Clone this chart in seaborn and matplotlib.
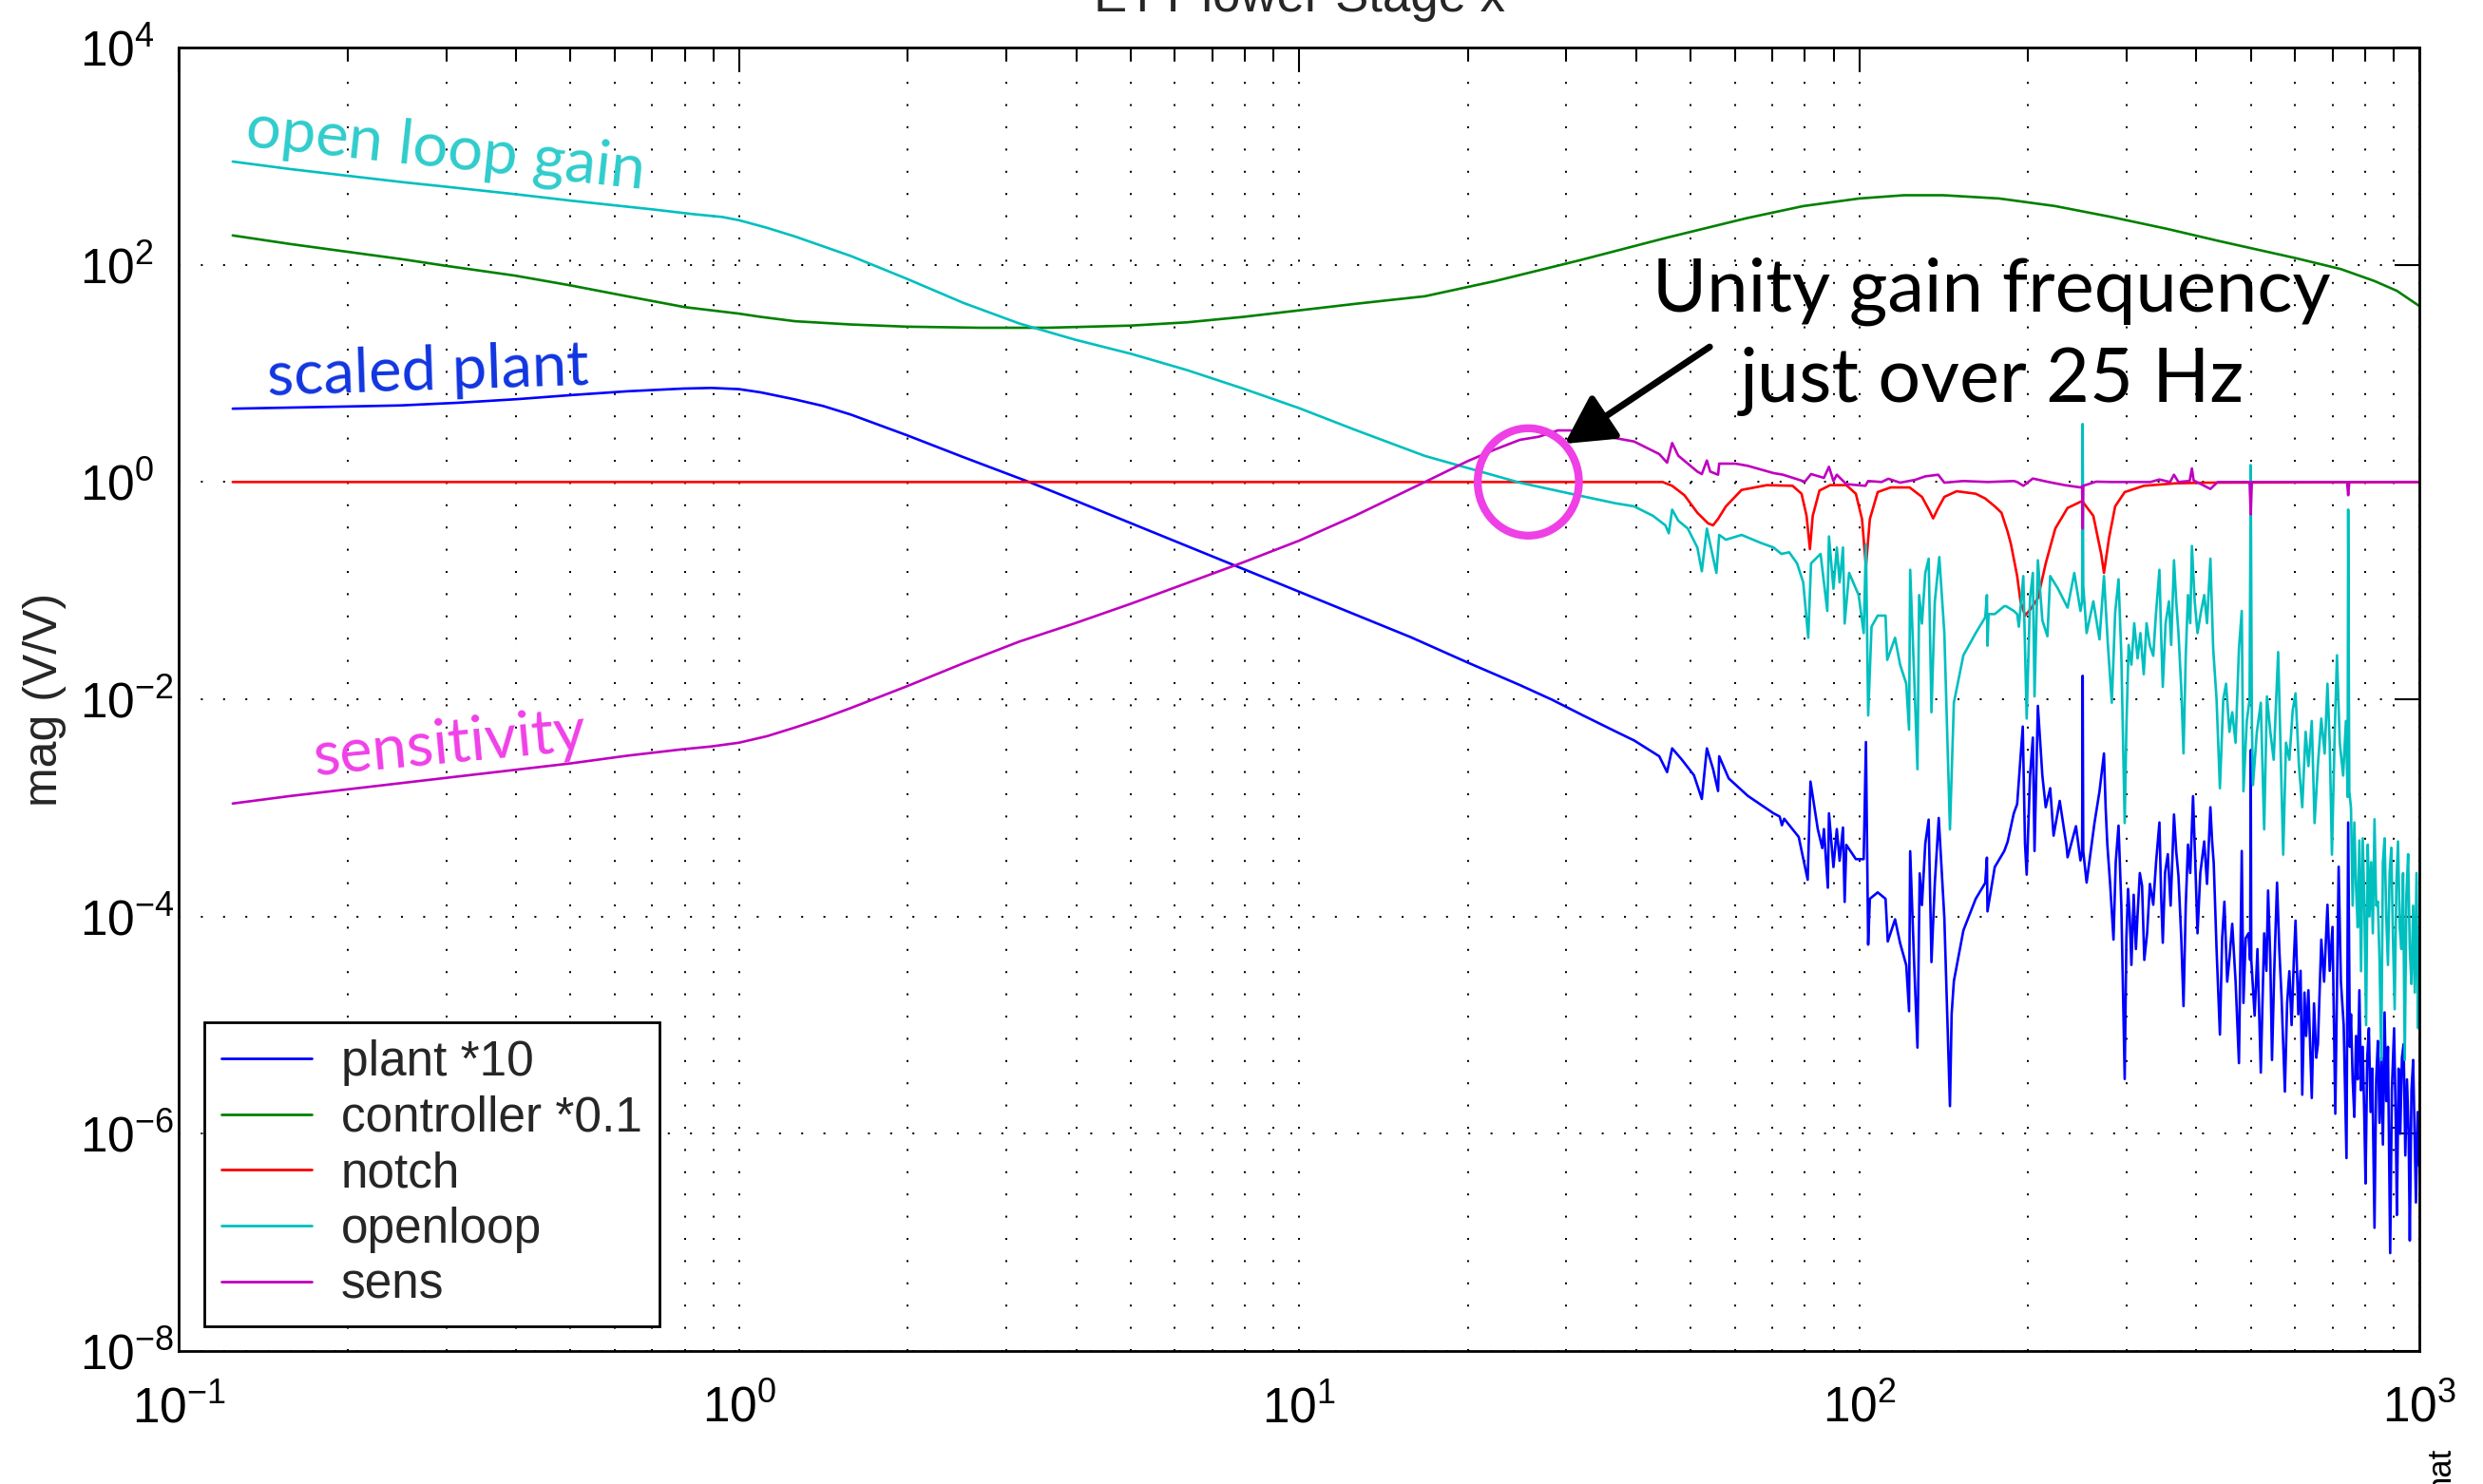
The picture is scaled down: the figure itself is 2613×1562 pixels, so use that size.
import numpy as np
import matplotlib
matplotlib.use("Agg")
import matplotlib.pyplot as plt
import seaborn as sns
from matplotlib.ticker import FixedLocator, NullLocator, LogLocator, FuncFormatter
from matplotlib.patches import Ellipse

# ---------------- data: (log10 frequency [Hz], log10 magnitude) ----------------
plant_points = [
    (-0.904, 0.675), (-0.8, 0.685), (-0.7, 0.695), (-0.604, 0.705), (-0.5, 0.73), (-0.395, 0.763), (-0.3, 0.80),
    (-0.2, 0.835), (-0.1, 0.860), (-0.05, 0.866), (0.0, 0.855), (0.039, 0.825), (0.1, 0.76), (0.15, 0.70),
    (0.2, 0.62), (0.3, 0.43), (0.4, 0.23), (0.518, 0.0), (0.6, -0.17), (0.7, -0.38), (0.8, -0.59), (0.9, -0.80),
    (1.0, -1.01), (1.1, -1.22), (1.2, -1.43), (1.3, -1.66),
    (1.394, -1.869), (1.451, -2.003), (1.507, -2.149), (1.564, -2.294), (1.598, -2.379), (1.643, -2.525),
    (1.657, -2.671), (1.666, -2.452), (1.683, -2.554), (1.705, -2.700), (1.719, -2.918), (1.728, -2.452),
    (1.739, -2.641), (1.748, -2.845), (1.750, -2.525), (1.767, -2.729), (1.801, -2.889), (1.847, -3.050),
    (1.858, -3.08), (1.862, -3.16), (1.866, -3.10), (1.892, -3.268), (1.908, -3.662), (1.913, -2.758),
    (1.926, -3.195), (1.934, -3.370), (1.937, -3.195), (1.944, -3.735), (1.946, -3.050), (1.954, -3.545),
    (1.960, -3.195), (1.965, -3.487), (1.971, -3.181), (1.974, -3.866), (1.977, -3.341), (1.994, -3.472),
    (2.008, -3.472), (2.012, -2.394), (2.016, -4.259), (2.019, -3.837), (2.033, -3.778), (2.047, -3.837),
    (2.051, -4.230), (2.064, -4.026), (2.073, -4.245), (2.084, -4.449), (2.089, -4.872), (2.091, -3.399),
    (2.098, -4.420), (2.104, -5.207), (2.108, -3.603), (2.112, -3.895), (2.118, -3.327), (2.124, -3.108),
    (2.129, -4.420), (2.135, -3.691), (2.142, -3.093), (2.152, -4.012), (2.162, -5.746), (2.165, -4.90),
    (2.169, -4.595), (2.186, -4.128), (2.208, -3.837), (2.225, -3.691), (2.228, -3.458), (2.229, -3.953),
    (2.242, -3.545), (2.259, -3.397), (2.265, -3.312), (2.276, -3.050), (2.282, -2.965), (2.292, -2.251),
    (2.296, -3.33), (2.299, -3.615), (2.305, -2.703), (2.310, -2.353), (2.313, -3.397), (2.319, -2.061),
    (2.327, -2.703), (2.333, -2.994), (2.341, -2.819), (2.347, -3.256), (2.358, -2.936), (2.370, -3.344),
    (2.372, -3.455), (2.387, -3.169), (2.395, -3.484), (2.398, -3.4), (2.399, -1.784), (2.400, -3.40),
    (2.406, -3.688), (2.420, -3.14), (2.429, -2.848), (2.437, -2.499), (2.440, -3.0), (2.443, -3.338),
    (2.448, -3.7), (2.454, -4.213), (2.458, -3.5), (2.463, -3.163), (2.468, -3.9), (2.474, -5.496),
    (2.477, -4.2), (2.480, -3.746), (2.483, -4.0), (2.486, -4.446), (2.490, -3.8), (2.494, -4.3),
    (2.497, -3.980), (2.501, -3.6), (2.505, -3.717), (2.509, -4.4), (2.514, -4.155), (2.519, -3.7),
    (2.525, -3.892), (2.530, -3.5), (2.536, -3.134), (2.539, -3.8), (2.542, -4.242), (2.546, -3.6),
    (2.551, -3.426), (2.556, -3.9), (2.562, -3.061), (2.566, -3.4), (2.570, -3.630), (2.575, -4.2),
    (2.579, -4.825), (2.583, -3.9), (2.587, -3.338), (2.591, -3.6), (2.596, -2.892), (2.600, -3.5),
    (2.604, -4.155), (2.609, -3.6), (2.616, -3.309), (2.621, -3.7), (2.627, -2.994), (2.630, -3.3),
    (2.633, -3.513), (2.638, -4.3), (2.644, -5.087), (2.648, -4.2), (2.652, -3.863), (2.657, -4.6),
    (2.661, -4.388), (2.666, -4.067), (2.672, -4.6), (2.678, -5.350), (2.683, -3.397), (2.686, -4.796),
    (2.690, -4.2), (2.695, -4.155), (2.698, -4.4), (2.699, -2.47), (2.700, -4.4), (2.706, -4.913),
    (2.711, -4.3), (2.717, -5.437), (2.723, -4.155), (2.727, -4.5), (2.730, -3.761), (2.734, -4.4),
    (2.737, -5.321), (2.741, -4.5), (2.746, -3.688), (2.750, -4.3), (2.754, -4.738), (2.760, -5.612),
    (2.764, -4.8), (2.768, -4.504), (2.772, -5.0), (2.776, -4.4), (2.779, -4.038), (2.784, -4.9),
    (2.788, -4.5), (2.791, -5.641), (2.795, -4.7), (2.798, -5.1), (2.802, -4.679), (2.808, -5.671),
    (2.812, -4.8), (2.816, -5.3), (2.819, -5.175), (2.825, -4.213), (2.830, -4.6), (2.836, -3.892),
    (2.840, -4.5), (2.845, -4.096), (2.850, -5.816), (2.856, -3.542), (2.860, -4.6), (2.865, -5.0),
    (2.870, -6.224), (2.873, -3.134), (2.876, -5.2), (2.878, -4.9), (2.881, -5.5), (2.884, -5.845),
    (2.887, -5.1), (2.890, -5.5), (2.893, -4.679), (2.896, -5.6), (2.899, -5.2), (2.902, -5.9),
    (2.904, -6.458), (2.907, -5.3), (2.910, -5.029), (2.913, -5.8), (2.916, -5.4), (2.920, -6.866),
    (2.923, -5.5), (2.926, -5.146), (2.929, -5.9), (2.932, -5.3), (2.935, -6.1), (2.938, -4.883),
    (2.941, -5.7), (2.944, -5.2), (2.948, -7.099), (2.951, -5.6), (2.955, -5.029), (2.958, -5.9),
    (2.960, -6.749), (2.963, -5.4), (2.966, -6.0), (2.969, -5.3), (2.972, -5.175), (2.975, -6.2),
    (2.978, -5.5), (2.981, -6.0), (2.983, -6.983), (2.986, -5.6), (2.989, -5.321), (2.992, -6.1),
    (2.994, -6.633), (2.997, -5.8), (3.0, -6.3)]

controller_points = [
    (-0.904, 2.27), (-0.8, 2.19), (-0.7, 2.12), (-0.6, 2.05), (-0.523, 1.99), (-0.4, 1.90), (-0.301, 1.81),
    (-0.2, 1.71), (-0.097, 1.61), (0.0, 1.55), (0.039, 1.52), (0.1, 1.48), (0.2, 1.45), (0.3, 1.43),
    (0.43, 1.42), (0.55, 1.42), (0.7, 1.44), (0.8, 1.47), (0.9, 1.52), (1.0, 1.58), (1.1, 1.64),
    (1.2245, 1.71), (1.35, 1.85), (1.5, 2.04), (1.657, 2.25), (1.8, 2.43), (1.9, 2.54), (2.0, 2.61),
    (2.08, 2.64), (2.15, 2.64), (2.25, 2.61), (2.35, 2.54), (2.45, 2.44), (2.55, 2.33), (2.641, 2.22),
    (2.78, 2.06), (2.86, 1.96), (2.92, 1.85), (2.96, 1.76), (3.0, 1.62)]

notch_points = [
    (-0.904, 0.0), (1.649, 0.0), (1.666, -0.035), (1.688, -0.122), (1.711, -0.283), (1.730, -0.38),
    (1.739, -0.399), (1.748, -0.34), (1.762, -0.224), (1.790, -0.073), (1.835, -0.029), (1.881, -0.035),
    (1.897, -0.108), (1.906, -0.312), (1.912, -0.618), (1.917, -0.312), (1.929, -0.079), (1.948, -0.029),
    (1.977, -0.029), (1.994, -0.108), (2.005, -0.341), (2.012, -0.778), (2.019, -0.341), (2.033, -0.093),
    (2.056, -0.050), (2.090, -0.050), (2.112, -0.137), (2.125, -0.26), (2.132, -0.335), (2.140, -0.25),
    (2.152, -0.137), (2.174, -0.085), (2.208, -0.108), (2.225, -0.152), (2.242, -0.224), (2.254, -0.283),
    (2.265, -0.458), (2.271, -0.574), (2.282, -0.866), (2.288, -1.099), (2.296, -1.230), (2.306, -1.17),
    (2.319, -1.070), (2.333, -0.749), (2.350, -0.429), (2.372, -0.239), (2.398, -0.175), (2.418, -0.312),
    (2.432, -0.662), (2.437, -0.837), (2.446, -0.516), (2.457, -0.224), (2.474, -0.093), (2.508, -0.035),
    (2.565, -0.012), (2.621, -0.006), (3.0, 0.0)]

openloop_points = [
    (-0.904, 2.95), (-0.8, 2.88), (-0.7, 2.82), (-0.6, 2.76), (-0.526, 2.72), (-0.4, 2.65), (-0.3, 2.59),
    (-0.155, 2.51), (-0.08, 2.465), (-0.03, 2.44), (0.0, 2.41), (0.05, 2.34), (0.1, 2.26), (0.15, 2.17),
    (0.2, 2.08), (0.3, 1.87), (0.4, 1.65), (0.5, 1.46), (0.6, 1.31), (0.7, 1.18), (0.8, 1.03), (0.9, 0.86),
    (1.0, 0.68), (1.1, 0.48), (1.2245, 0.24), (1.3, 0.13),
    (1.394, -0.006), (1.485, -0.108), (1.564, -0.195), (1.598, -0.224), (1.632, -0.312), (1.654, -0.399),
    (1.660, -0.472), (1.666, -0.254), (1.677, -0.356), (1.694, -0.429), (1.711, -0.603), (1.719, -0.822),
    (1.728, -0.429), (1.734, -0.574), (1.745, -0.837), (1.750, -0.487), (1.762, -0.531), (1.790, -0.487),
    (1.824, -0.560), (1.847, -0.603), (1.861, -0.662), (1.875, -0.647), (1.889, -0.749), (1.900, -0.924),
    (1.909, -1.434), (1.914, -0.749), (1.931, -0.662), (1.943, -1.187), (1.946, -0.501), (1.954, -0.983),
    (1.960, -0.603), (1.965, -0.924), (1.971, -0.603), (1.974, -1.303), (1.982, -0.837), (1.999, -1.041),
    (2.008, -1.391), (2.012, -0.574), (2.016, -2.149), (2.022, -1.332), (2.033, -1.230), (2.047, -1.230),
    (2.050, -1.638), (2.064, -1.434), (2.073, -1.682), (2.084, -1.857), (2.089, -2.280), (2.091, -0.808),
    (2.098, -1.770), (2.104, -2.644), (2.107, -1.041), (2.112, -1.303), (2.118, -0.837), (2.124, -0.706),
    (2.129, -2.120), (2.135, -1.099), (2.143, -0.691), (2.152, -1.391), (2.162, -3.198), (2.169, -2.032),
    (2.186, -1.595), (2.208, -1.391), (2.225, -1.245), (2.228, -1.041), (2.229, -1.507), (2.231, -1.216),
    (2.242, -1.216), (2.259, -1.143), (2.262, -1.143), (2.276, -1.187), (2.282, -1.216), (2.285, -1.332),
    (2.293, -0.866), (2.299, -2.178), (2.305, -1.070), (2.310, -0.837), (2.313, -1.974), (2.319, -0.720),
    (2.327, -1.274), (2.336, -1.420), (2.341, -0.866), (2.355, -0.983), (2.372, -1.157), (2.384, -0.837),
    (2.395, -1.187), (2.398, -1.1), (2.399, 0.534), (2.400, -0.953), (2.406, -1.391), (2.418, -1.099),
    (2.429, -1.449), (2.437, -0.866), (2.444, -1.5), (2.451, -2.032), (2.457, -1.2), (2.463, -0.895),
    (2.468, -1.6), (2.474, -3.140), (2.477, -2.265), (2.481, -1.5), (2.486, -1.682), (2.491, -1.3),
    (2.497, -1.624), (2.502, -1.391), (2.508, -1.770), (2.513, -1.3), (2.519, -1.507), (2.525, -1.6),
    (2.530, -1.2), (2.536, -0.808), (2.539, -1.4), (2.542, -1.886), (2.547, -1.3), (2.553, -1.099),
    (2.557, -1.5), (2.562, -0.720), (2.566, -1.1), (2.570, -1.391), (2.575, -1.9), (2.579, -2.499),
    (2.583, -1.6), (2.587, -1.041), (2.591, -1.3), (2.594, -0.589), (2.599, -1.1), (2.604, -1.391),
    (2.610, -1.2), (2.616, -1.041), (2.621, -1.3), (2.627, -0.706), (2.632, -1.536), (2.638, -2.0),
    (2.644, -2.819), (2.650, -2.0), (2.655, -1.857), (2.661, -2.3), (2.666, -2.120), (2.672, -2.4),
    (2.678, -1.536), (2.683, -1.187), (2.686, -2.848), (2.692, -2.2), (2.697, -2.0), (2.699, 0.155),
    (2.701, -2.2), (2.703, -2.790), (2.710, -2.3), (2.717, -2.032), (2.723, -3.198), (2.728, -1.974),
    (2.734, -2.3), (2.740, -2.557), (2.748, -1.566), (2.752, -2.4), (2.757, -3.431), (2.762, -2.4),
    (2.768, -2.557), (2.774, -2.1), (2.779, -1.945), (2.785, -2.6), (2.791, -2.994), (2.797, -2.3),
    (2.802, -2.615), (2.808, -2.2), (2.813, -3.140), (2.819, -2.6), (2.825, -2.178), (2.831, -2.5),
    (2.836, -1.857), (2.840, -2.4), (2.844, -3.431), (2.849, -2.3), (2.853, -1.595), (2.858, -2.4),
    (2.864, -2.703), (2.869, -2.2), (2.872, -2.9), (2.873, -0.254), (2.875, -2.848), (2.878, -3.0),
    (2.881, -3.9), (2.884, -3.134), (2.887, -3.717), (2.890, -4.1), (2.893, -3.3), (2.896, -4.504),
    (2.899, -3.28), (2.902, -3.9), (2.905, -5.0), (2.908, -3.338), (2.911, -4.0), (2.914, -3.5),
    (2.917, -4.155), (2.920, -3.105), (2.923, -3.9), (2.926, -3.863), (2.929, -4.4), (2.932, -5.321),
    (2.935, -3.5), (2.938, -3.280), (2.941, -4.0), (2.944, -4.446), (2.947, -3.6), (2.950, -3.367),
    (2.953, -4.2), (2.956, -4.854), (2.959, -3.7), (2.962, -3.309), (2.965, -4.1), (2.968, -4.300),
    (2.971, -3.6), (2.974, -5.321), (2.977, -3.8), (2.980, -3.426), (2.983, -4.3), (2.986, -4.621),
    (2.989, -3.9), (2.992, -4.7), (2.995, -3.6), (2.998, -5.029), (3.0, -4.2)]

sens_points = [
    (-0.904, -2.96), (-0.8, -2.89), (-0.7, -2.83), (-0.6, -2.77), (-0.5, -2.71), (-0.4, -2.65), (-0.3, -2.59),
    (-0.2, -2.52), (-0.1, -2.46), (-0.05, -2.435), (0.0, -2.40), (0.05, -2.34), (0.1, -2.26), (0.15, -2.175),
    (0.2, -2.08), (0.3, -1.88), (0.4, -1.67), (0.5, -1.47), (0.6, -1.30), (0.7, -1.12), (0.8, -0.93),
    (0.9, -0.74), (1.0, -0.54), (1.1, -0.31), (1.2245, 0.0), (1.3, 0.19), (1.35, 0.30),
    (1.394, 0.388), (1.428, 0.417), (1.462, 0.475), (1.485, 0.475), (1.536, 0.431), (1.598, 0.373),
    (1.643, 0.257), (1.657, 0.178), (1.666, 0.359), (1.677, 0.242), (1.711, 0.096), (1.719, 0.073),
    (1.728, 0.198), (1.734, 0.096), (1.748, 0.067), (1.750, 0.169), (1.779, 0.169), (1.801, 0.149),
    (1.847, 0.082), (1.864, 0.067), (1.903, 0.003), (1.914, 0.073), (1.937, 0.038), (1.946, 0.140),
    (1.954, 0.009), (1.960, 0.067), (1.977, -0.020), (2.011, -0.035), (2.016, 0.009), (2.040, 0.0),
    (2.052, 0.03), (2.073, -0.006), (2.100, 0.02), (2.118, 0.052), (2.141, 0.067), (2.152, -0.006),
    (2.186, 0.009), (2.230, 0.0), (2.276, 0.009), (2.282, 0.0), (2.293, -0.035), (2.310, 0.032),
    (2.338, 0.0), (2.367, -0.029), (2.395, -0.050), (2.398, -0.04), (2.399, -0.429), (2.400, -0.035),
    (2.423, 0.003), (2.451, 0.0), (2.520, 0.0), (2.536, 0.023), (2.555, 0.0), (2.562, 0.067),
    (2.570, 0.0), (2.590, 0.01), (2.594, 0.125), (2.597, 0.015), (2.627, -0.064), (2.640, 0.0),
    (2.697, 0.0), (2.699, -0.297), (2.701, 0.0), (2.871, 0.0), (2.873, -0.122), (2.875, 0.0), (3.0, 0.0)]

series_labels = ["plant *10", "controller *0.1", "notch", "openloop", "sens"]
series_colors = ["#0000ff", "#008000", "#ff0000", "#00bfbf", "#bf00bf"]
x_tick_values = [0.1, 1, 10, 100, 1000]
y_tick_values = [1e-8, 1e-6, 1e-4, 1e-2, 1e0, 1e2, 1e4]

# ---------------- style ----------------
sns.set_style("white")
plt.rcParams["font.family"] = ["Liberation Sans", "DejaVu Sans"]
plt.rcParams["mathtext.fontset"] = "custom"
plt.rcParams["mathtext.rm"] = "Liberation Sans"
plt.rcParams["mathtext.it"] = "Liberation Sans:italic"
plt.rcParams["mathtext.bf"] = "Liberation Sans:bold"
plt.rcParams["mathtext.default"] = "regular"

fig = plt.figure(figsize=(26.13, 15.62), dpi=100)
ax = fig.add_axes([0.07206, 0.08963, 0.90229, 0.87836])
ax.set_xscale("log")
ax.set_yscale("log")

all_series = [plant_points, controller_points, notch_points, openloop_points, sens_points]
for pts, lab, col in zip(all_series, series_labels, series_colors):
    lf = np.array([p[0] for p in pts])
    lm = np.array([p[1] for p in pts])
    sns.lineplot(x=np.power(10.0, lf), y=np.power(10.0, lm), ax=ax, color=col, lw=1.9,
                 label=lab, sort=False, estimator=None)

ax.set_xlim(0.1, 1000)
ax.set_ylim(1e-8, 1e4)

fmt = FuncFormatter(lambda v, p: r"$10^{%d}$" % int(round(np.log10(v))))
ax.xaxis.set_major_locator(FixedLocator(x_tick_values))
ax.xaxis.set_minor_locator(LogLocator(base=10, subs=np.arange(2, 10), numticks=20))
ax.yaxis.set_major_locator(FixedLocator(y_tick_values))
ax.yaxis.set_minor_locator(NullLocator())
ax.xaxis.set_major_formatter(fmt)
ax.yaxis.set_major_formatter(fmt)

ax.tick_params(which="both", direction="in", top=True, right=True, colors="black",
               labelsize=37, width=1.5)
ax.tick_params(which="major", length=19)
ax.tick_params(which="minor", length=9)
ax.tick_params(axis="x", which="major", pad=26)
ax.tick_params(axis="y", which="major", pad=75)
for t in ax.yaxis.get_major_ticks():
    t.label1.set_horizontalalignment("left")

dot = (0, (1, 10.7))
ax.grid(True, which="major", axis="both", color="black", linestyle=dot, linewidth=1.44)
ax.grid(True, which="minor", axis="x", color="black", linestyle=dot, linewidth=1.44)
ax.set_axisbelow(True)
for s in ax.spines.values():
    s.set_visible(True)
    s.set_color("black")
    s.set_linewidth(2.0)

ax.set_ylabel("mag (V/V)", fontsize=36)
ax.yaxis.set_label_coords(-0.0502, 0.5)
ax.set_title("ETT lower Stage x", fontsize=38, y=1.0277, pad=0)

leg = ax.legend(loc="lower left", bbox_to_anchor=(0.0113, 0.019), borderaxespad=0, fontsize=37,
                frameon=True, fancybox=False, edgecolor="black", framealpha=1,
                handlelength=1.85, handletextpad=0.6, borderpad=0.35, labelspacing=0.19)
leg.get_frame().set_linewidth(2.0)
for h in leg.get_lines():
    h.set_linewidth(2.0)

# ---------------- annotations ----------------
fig.text(257 / 2613, 1 - 154 / 1562, "open loop gain", rotation=-6.1, rotation_mode="anchor",
         ha="left", va="baseline", fontsize=47, family="Lato", color="#30cccc")
fig.text(282 / 2613, 1 - 416 / 1562, "scaled plant", rotation=1.9, rotation_mode="anchor",
         ha="left", va="baseline", fontsize=47, family="Lato", color="#1035e0")
fig.text(332 / 2613, 1 - 816 / 1562, "sensitivity", rotation=5.4, rotation_mode="anchor",
         ha="left", va="baseline", fontsize=47, family="Lato", color="#f040e8")
fig.text(2096 / 2613, 1 - 328 / 1562, "Unity gain frequency", ha="center", va="baseline",
         fontsize=56, family="Lato", color="black")
fig.text(2096 / 2613, 1 - 423 / 1562, "just over 25 Hz", ha="center", va="baseline",
         fontsize=57, family="Lato", color="black")

ax.add_patch(Ellipse((0.6023, 0.6667), 0.04517, 0.08236, transform=ax.transAxes, fill=False,
                     edgecolor="#ee40e6", linewidth=6, zorder=6))
ax.annotate("", xy=(10 ** 1.474, 10 ** 0.352), xytext=(10 ** 1.733, 10 ** 1.244),
            arrowprops=dict(arrowstyle="-|>,head_length=0.5,head_width=0.27", mutation_scale=62,
                            lw=5, color="black", shrinkA=0, shrinkB=0), zorder=7)

fig.text(2578 / 2613, 1 - 1523 / 1562, "nat", rotation=90, rotation_mode="anchor",
         ha="right", va="baseline", fontsize=25, color="black")

fig.savefig("out.png", dpi=100)
